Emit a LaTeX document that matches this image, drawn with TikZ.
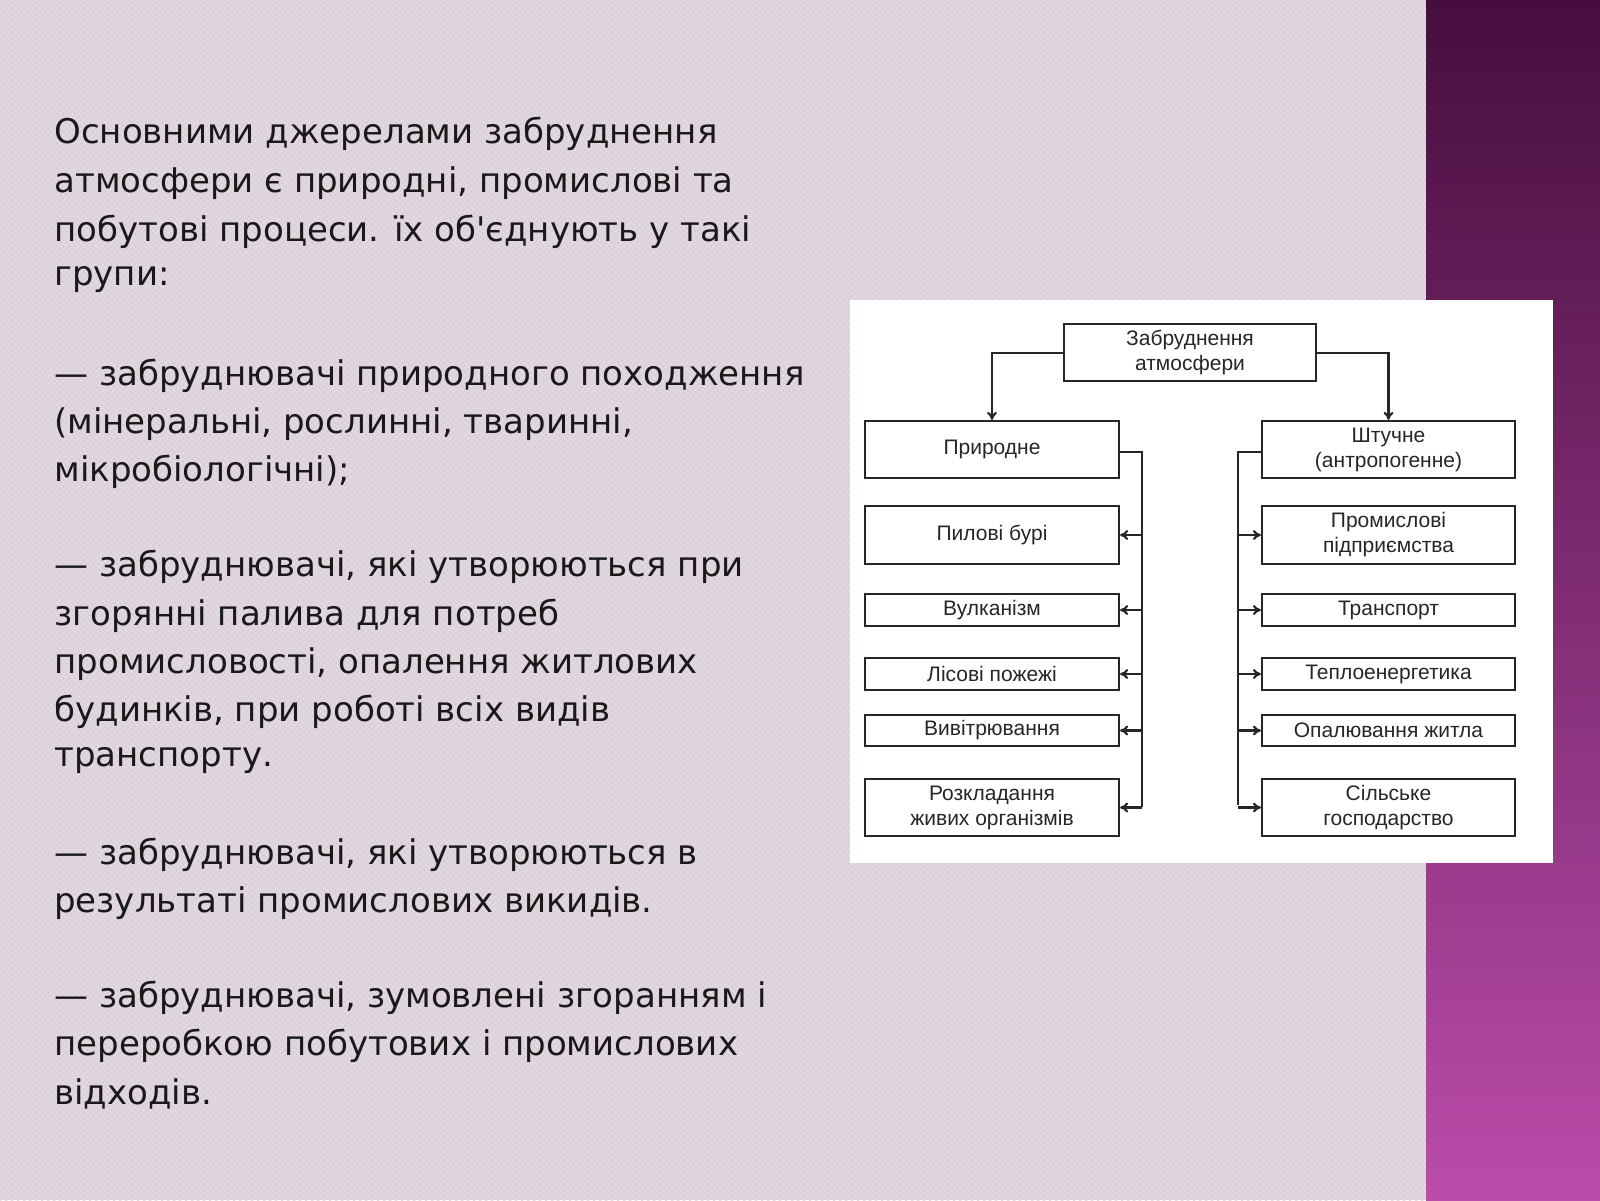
\documentclass[tikz,border=0pt]{standalone}
\usepackage{fontspec}
\setmainfont{DejaVu Sans}
\newfontfamily\diagfont{Liberation Sans}
\usetikzlibrary{arrows.meta,patterns}
\definecolor{bgm}{RGB}{220,208,218}
\definecolor{bgl}{RGB}{228,218,226}
\definecolor{stt}{RGB}{70,14,62}
\definecolor{stb}{RGB}{186,76,170}
\begin{document}
\begin{tikzpicture}[x=0.5pt,y=-0.5pt,
  bx/.style={draw=black!85,line width=1.1pt,fill=white,inner sep=0pt,align=center,font=\diagfont\fontsize{10.5}{12.5}\selectfont,text=black!85},
  ln/.style={draw=black!85,line width=1.1pt},
  ar/.style={ln,-{To[length=4pt,width=5pt]}},
  txt/.style={anchor=west,inner sep=0pt,font=\fontsize{17}{20}\selectfont,text=black!90}]
\useasboundingbox (0,0) rectangle (1600,1200);
\fill[bgm] (0,0) rectangle (1426,1200);
\pattern[pattern=crosshatch,pattern color=bgl] (0,0) rectangle (1426,1200);
\shade[top color=stt,bottom color=stb] (1426,0) rectangle (1600,1200);
\fill[white] (850,300) rectangle (1553,863);
% text
\node[txt] (t1) at (54,134) {Основними джерелами забруднення};
\node[txt] (t2) at (54,183) {атмосфери є природні, промислові та};
\node[txt] (t3) at (54,232) {побутові процеси. їх об{\addfontfeature{Mapping=}'}єднують у такі};
\node[txt] (t4) at (54,280) {групи:};
\node[txt] (t5) at (54,376) {— забруднювачі природного походження};
\node[txt] (t6) at (54,424) {(мінеральні, рослинні, тваринні,};
\node[txt] (t7) at (54,472) {мікробіологічні);};
\node[txt] (t8) at (54,567) {— забруднювачі, які утворюються при};
\node[txt] (t9) at (54,616) {згорянні палива для потреб};
\node[txt] (t10) at (54,664) {промисловості, опалення житлових};
\node[txt] (t11) at (54,712) {будинків, при роботі всіх видів};
\node[txt] (t12) at (54,760) {транспорту.};
\node[txt] (t13) at (54,855) {— забруднювачі, які утворюються в};
\node[txt] (t14) at (54,903) {результаті промислових викидів.};
\node[txt] (t15) at (54,998) {— забруднювачі, зумовлені згоранням і};
\node[txt] (t16) at (54,1046) {переробкою побутових і промислових};
\node[txt] (t17) at (54,1094) {відходів.};
% diagram
\node[bx,minimum width=126pt,minimum height=28.5pt] (top) at (1190,352.5) {Забруднення\\атмосфери};
\node[bx,minimum width=127pt,minimum height=28.5pt] (L0) at (992,449.5) {Природне};
\node[bx,minimum width=127pt,minimum height=29pt] (L1) at (992,535) {Пилові бурі};
\node[bx,minimum width=127pt,minimum height=16pt] (L2) at (992,610) {Вулканізм};
\node[bx,minimum width=127pt,minimum height=16pt] (L3) at (992,674) {Лісові пожежі};
\node[bx,minimum width=127pt,minimum height=15.5pt] (L4) at (992,730.5) {Вивітрювання};
\node[bx,minimum width=127pt,minimum height=28.5pt] (L5) at (992,807.5) {Розкладання\\живих організмів};
\node[bx,minimum width=126.5pt,minimum height=28.5pt] (R0) at (1388.5,449.5) {Штучне\\(антропогенне)};
\node[bx,minimum width=126.5pt,minimum height=29pt] (R1) at (1388.5,535) {Промислові\\підприємства};
\node[bx,minimum width=126.5pt,minimum height=16pt] (R2) at (1388.5,610) {Транспорт};
\node[bx,minimum width=126.5pt,minimum height=16pt] (R3) at (1388.5,674) {Теплоенергетика};
\node[bx,minimum width=126.5pt,minimum height=15.5pt] (R4) at (1388.5,730.5) {Опалювання житла};
\node[bx,minimum width=126.5pt,minimum height=28.5pt] (R5) at (1388.5,807.5) {Сільське\\господарство};
\coordinate (lb) at (1142,452);
\coordinate (rb) at (1238,452);
\draw[ar] (top.west |- 0,353) -| (L0.north);
\draw[ar] (top.east |- 0,353) -| (R0.north);
\draw[ln] (L0.east |- lb) -- (lb) -- (lb |- 0,807);
\draw[ln] (R0.west |- rb) -- (rb) -- (rb |- 0,805);
\foreach \i in {1,...,5}{
  \draw[ar] (lb |- L\i.east) -- (L\i.east);
  \draw[ar] (rb |- R\i.west) -- (R\i.west);
}
\end{tikzpicture}
\end{document}
